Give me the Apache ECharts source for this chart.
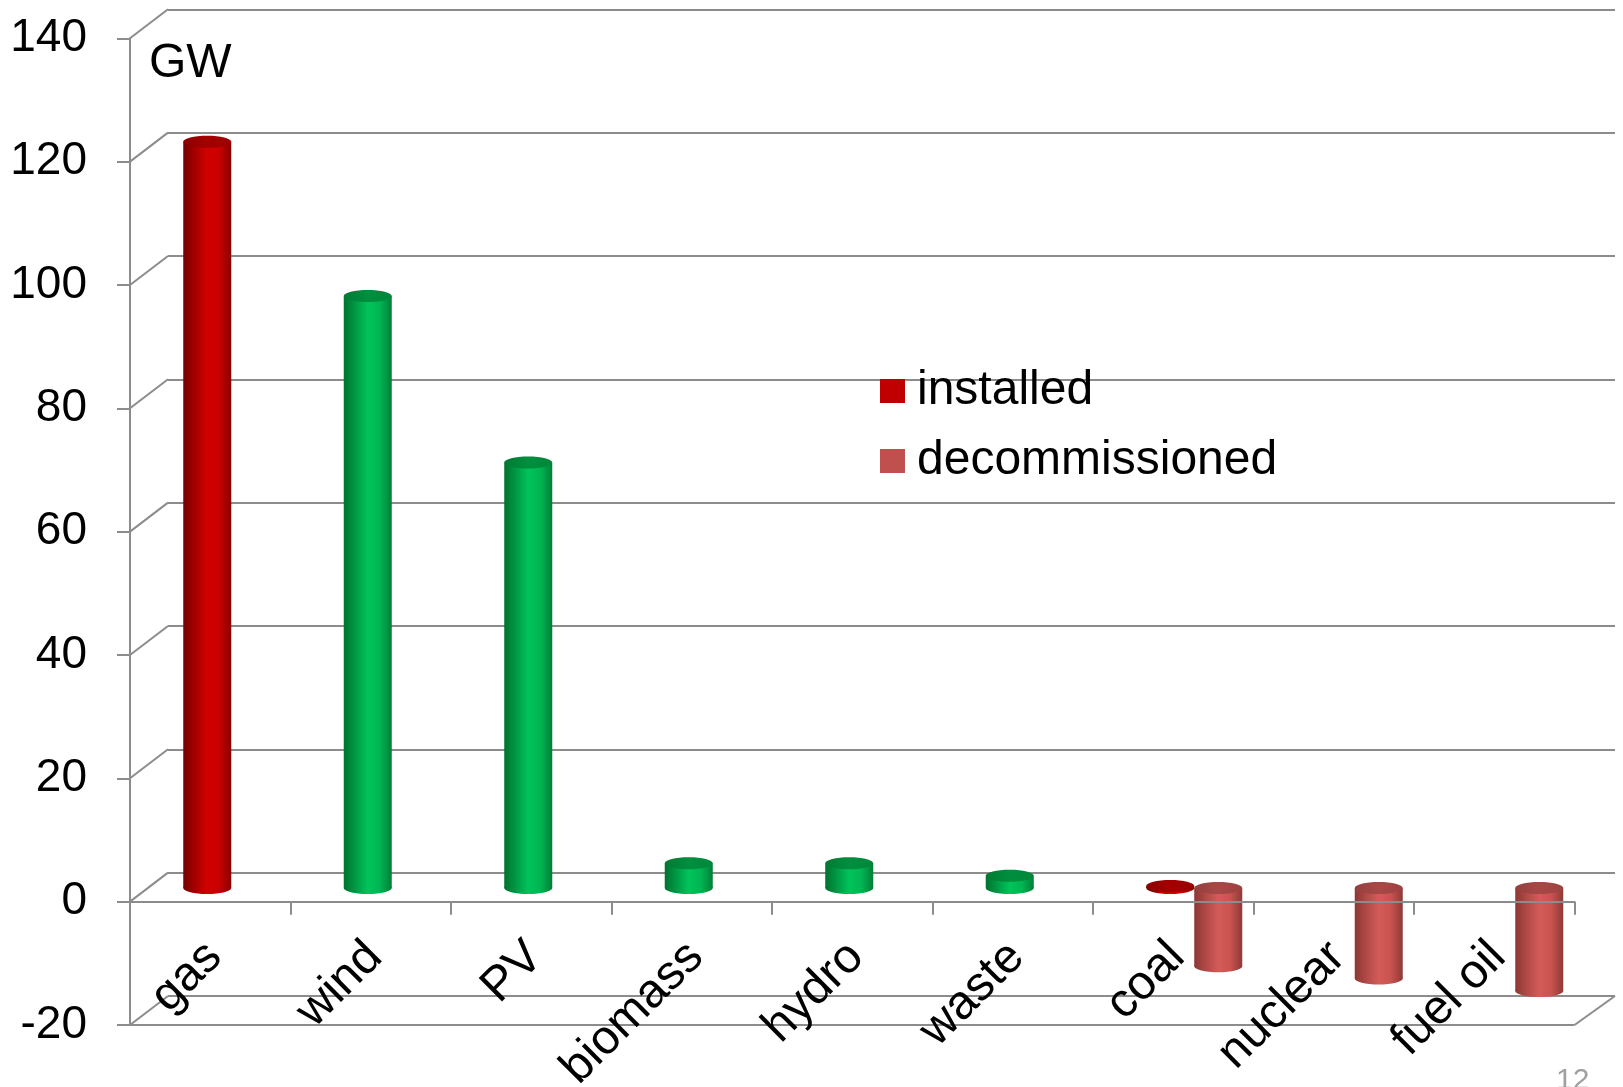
<!DOCTYPE html>
<html>
<head>
<meta charset="utf-8">
<title>Installed and decommissioned capacity</title>
<script src="https://cdn.jsdelivr.net/npm/echarts@6/dist/echarts.min.js"></script>
<style>
  html, body { margin: 0; padding: 0; background: #ffffff; }
  #chart { width: 1623px; height: 1087px; }
</style>
</head>
<body>
<div id="chart"></div>
<script>
// ---- data (GW) ----
const categories = ['gas', 'wind', 'PV', 'biomass', 'hydro', 'waste', 'coal', 'nuclear', 'fuel oil'];
const installed = [121, 96, 69, 4, 4, 2, 0.3, null, null];
const decommissioned = [null, null, null, null, null, null, -12.7, -14.7, -16.7];
const seriesNames = ['installed', 'decommissioned'];
const unitLabel = 'GW';
const pageNumber = '12';
const yMin = -20, yMax = 140, yStep = 20;

// ---- look ----
const FONT = '"Liberation Sans", Arial, Helvetica, sans-serif';
const LINE = '#8c8c8c';
const GREEN_TECH = new Set(['wind', 'PV', 'biomass', 'hydro', 'waste']);

// oblique box: front plane, mid-depth plane (bars), back wall
const FRONT = { left: 130, top: 38.3, width: 1444.5, height: 986.7 };
const MID = { left: FRONT.left + 21, top: FRONT.top - 13.7, width: FRONT.width, height: FRONT.height };
const BACK = { left: FRONT.left + 38, top: FRONT.top - 29, width: 1447, height: FRONT.height };
// strip above the front zero line, used only to hang the category labels
const LABEL_BAND = { left: FRONT.left + 4, top: FRONT.top, width: FRONT.width, height: FRONT.height * 140 / 160 };
const BAR_W = 48;
const CAP_RY = 6;

const TONES = {
  red: {
    body: ['#760000', '#a60000', '#d20000', '#c80000', '#8a0000'],
    cap: ['#8c0000', '#a40000', '#9a0000']
  },
  green: {
    body: ['#00722f', '#009a45', '#00c45a', '#00b552', '#007f37'],
    cap: ['#007a33', '#008f3e', '#00863a']
  },
  rose: {
    body: ['#8c3735', '#b24a47', '#d35b58', '#c95350', '#8f3937'],
    cap: ['#93403e', '#a84846', '#9c4240']
  }
};

function gradient(colors) {
  const n = colors.length - 1;
  return {
    type: 'linear', x: 0, y: 0, x2: 1, y2: 0,
    colorStops: colors.map((c, i) => ({ offset: i / n, color: c }))
  };
}

function toneFor(seriesIdx, cat) {
  if (seriesIdx === 1) return TONES.rose;
  return GREEN_TECH.has(cat) ? TONES.green : TONES.red;
}

function cylinder(seriesIdx) {
  const shift = (seriesIdx === 0 ? -1 : 1) * BAR_W / 2;
  return function (params, api) {
    const c = api.value(0);
    const v = api.value(1);
    const base = api.coord([c, 0]);
    const tip = api.coord([c, v]);
    const cx = base[0] + shift;
    const yHi = Math.min(base[1], tip[1]);
    const yLo = Math.max(base[1], tip[1]);
    const tone = toneFor(seriesIdx, categories[c]);
    const body = gradient(tone.body);
    return {
      type: 'group',
      children: [
        { type: 'ellipse', shape: { cx: cx, cy: yLo, rx: BAR_W / 2, ry: CAP_RY }, style: { fill: body } },
        { type: 'rect', shape: { x: cx - BAR_W / 2, y: yHi, width: BAR_W, height: yLo - yHi }, style: { fill: body } },
        { type: 'ellipse', shape: { cx: cx, cy: yHi, rx: BAR_W / 2, ry: CAP_RY }, style: { fill: gradient(tone.cap) } }
      ]
    };
  };
}

function toPairs(arr) {
  return arr.map((v, i) => (v == null ? null : [i, v])).filter(Boolean);
}

const valueAxisBase = { type: 'value', min: yMin, max: yMax, interval: yStep };
const gridBase = { containLabel: false, outerBoundsMode: 'none' };

const chart = echarts.init(document.getElementById('chart'), null, { renderer: 'canvas' });

chart.setOption({
  animation: false,
  backgroundColor: '#ffffff',
  textStyle: { fontFamily: FONT },
  grid: [
    Object.assign({}, BACK, gridBase),
    Object.assign({}, MID, gridBase),
    Object.assign({}, FRONT, gridBase),
    Object.assign({}, LABEL_BAND, gridBase)
  ],
  xAxis: [
    { gridIndex: 0, type: 'category', data: categories, show: false },
    { gridIndex: 1, type: 'category', data: categories, show: false },
    {
      gridIndex: 2, type: 'category', data: categories, z: 10,
      axisLine: { show: true, onZero: true, lineStyle: { color: LINE, width: 2 } },
      axisTick: { show: true, length: 13, lineStyle: { color: LINE, width: 2 } },
      axisLabel: { show: false },
      splitLine: { show: false }
    },
    {
      gridIndex: 3, type: 'category', data: categories, z: 10,
      axisLine: { show: false }, axisTick: { show: false },
      axisLabel: {
        rotate: 45, margin: 48, interval: 0,
        fontFamily: FONT, fontSize: 48, color: '#000000'
      },
      splitLine: { show: false }
    }
  ],
  yAxis: [
    Object.assign({}, valueAxisBase, {
      gridIndex: 0,
      axisLine: { show: false }, axisTick: { show: false }, axisLabel: { show: false },
      splitLine: { show: true, lineStyle: { color: LINE, width: 2 } }
    }),
    Object.assign({}, valueAxisBase, { gridIndex: 1, show: false, splitLine: { show: false } }),
    Object.assign({}, valueAxisBase, {
      gridIndex: 2, z: 10,
      axisLine: { show: true, lineStyle: { color: LINE, width: 2 } },
      axisTick: { show: true, length: 13, lineStyle: { color: LINE, width: 2 } },
      axisLabel: { margin: 43, fontFamily: FONT, fontSize: 46, color: '#000000' },
      splitLine: { show: false }
    }),
    { gridIndex: 3, type: 'value', min: 0, max: yMax, show: false, splitLine: { show: false } }
  ],
  legend: {
    orient: 'vertical',
    left: 875, top: 361,
    itemWidth: 25, itemHeight: 24, itemGap: 20,
    icon: 'rect',
    data: seriesNames,
    textStyle: { fontFamily: FONT, fontSize: 48, color: '#000000', lineHeight: 50, padding: [0, 0, 0, 7] }
  },
  series: [
    {
      name: seriesNames[0], type: 'custom', xAxisIndex: 1, yAxisIndex: 1, z: 5,
      itemStyle: { color: '#c00000' },
      renderItem: cylinder(0),
      data: toPairs(installed)
    },
    {
      name: seriesNames[1], type: 'custom', xAxisIndex: 1, yAxisIndex: 1, z: 5,
      itemStyle: { color: '#c0504d' },
      renderItem: cylinder(1),
      data: toPairs(decommissioned)
    }
  ]
});

// side wall and floor edges that join the front plane to the back wall
function drawBoxEdges() {
  const lines = [];
  const style = { stroke: LINE, lineWidth: 2 };
  for (let v = yMin; v <= yMax; v += yStep) {
    const yf = chart.convertToPixel({ yAxisIndex: 2 }, v);
    const yb = chart.convertToPixel({ yAxisIndex: 0 }, v);
    lines.push({ type: 'line', z: 1, shape: { x1: FRONT.left, y1: yf, x2: BACK.left, y2: yb }, style: style });
  }
  const yfBottom = chart.convertToPixel({ yAxisIndex: 2 }, yMin);
  const ybBottom = chart.convertToPixel({ yAxisIndex: 0 }, yMin);
  const xfRight = FRONT.left + FRONT.width;
  const xbRight = BACK.left + BACK.width;
  lines.push({ type: 'line', z: 10, shape: { x1: FRONT.left, y1: yfBottom, x2: xfRight, y2: yfBottom }, style: style });
  lines.push({ type: 'line', z: 10, shape: { x1: xfRight, y1: yfBottom, x2: xbRight, y2: ybBottom }, style: style });

  lines.push({
    type: 'text', z: 10, left: 149, top: 40,
    style: { text: unitLabel, font: '48px ' + FONT, fill: '#000000' }
  });
  lines.push({
    type: 'text', z: 10, left: 1556, top: 1066,
    style: { text: pageNumber, font: '30px ' + FONT, fill: '#a0a0a0' }
  });
  chart.setOption({ graphic: { elements: lines } });
}
drawBoxEdges();
</script>
</body>
</html>
